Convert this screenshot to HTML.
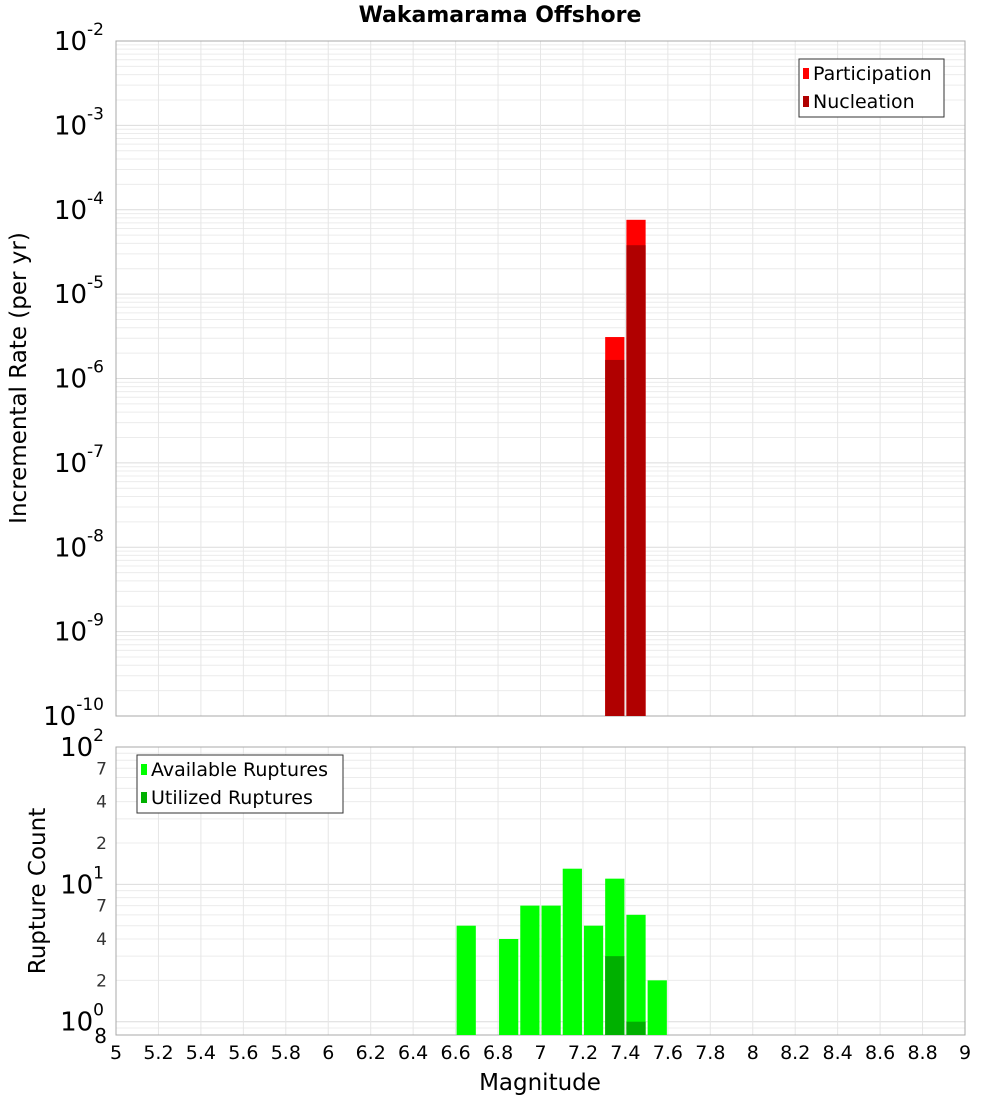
<!DOCTYPE html>
<html><head><meta charset="utf-8"><style>
body{margin:0;background:#fff;font-family:"DejaVu Sans","Liberation Sans",sans-serif}
</style></head><body>
<svg id="c" width="1000" height="1100" xmlns="http://www.w3.org/2000/svg" style="font-family:'DejaVu Sans','Liberation Sans',sans-serif">
<text x="500" y="22" text-anchor="middle" font-size="22" font-weight="bold">Wakamarama Offshore</text>
</svg>
<script>
const binCenters=[6.65,6.85,6.95,7.05,7.15,7.25,7.35,7.45,7.55];
const availableCounts=[5,4,7,7,13,5,11,6,2];
const utilizedBins=[7.35,7.45];
const utilizedCounts=[3,1];
const rateBins=[7.35,7.45];
const participationRates=[3.1e-6,7.6e-5];
const nucleationRates=[1.66e-6,3.8e-5];
const xTicks=[5,5.2,5.4,5.6,5.8,6,6.2,6.4,6.6,6.8,7,7.2,7.4,7.6,7.8,8,8.2,8.4,8.6,8.8,9];

const svg=document.getElementById('c');const NS='http://www.w3.org/2000/svg';
function mk(t,a,p){const e=document.createElementNS(NS,t);for(const k in a)e.setAttribute(k,a[k]);(p||svg).appendChild(e);return e;}
const X0=116,X1=965;
const x=v=>X0+(v-5)/4*(X1-X0);
const T0=41,T1=716;const yT=v=>T1-(Math.log10(v)+10)/8*(T1-T0);
const B0=747,B1=1035;const bLo=Math.log10(0.8);const yB=v=>B1-(Math.log10(v)-bLo)/(2-bLo)*(B1-B0);

function grid(yf,top,bot,decs){
  for(const d of decs)for(let m=1;m<10;m++){const v=m*Math.pow(10,d);const yy=yf(v);if(yy<top-0.5||yy>bot+0.5)continue;
    const l=mk('line',{x1:X0,x2:X1,y1:yy,y2:yy,stroke:m==1?'#dcdcdc':'#ececec','stroke-width':1});
    
    }
  for(const t of xTicks){const l=mk('line',{x1:x(t),x2:x(t),y1:top,y2:bot,stroke:'#e6e6e6'});
    
    }
  const r=mk('rect',{x:X0,y:top,width:X1-X0,height:bot-top,fill:'none',stroke:'#a8a8a8'});
  
  
}
grid(yT,T0,T1,[-10,-9,-8,-7,-6,-5,-4,-3,-2]);
grid(yB,B0,B1,[-1,0,1,2]);

const w=x(5.1)-x(5)-2;
function bar(c,v,yf,bot,fill,name){const r=mk('rect',{x:x(c)-w/2,y:yf(v),width:w,height:bot-yf(v),fill:fill});
  
  }
rateBins.forEach((c,i)=>{bar(c,participationRates[i],yT,T1,'#ff0000','participation-bar');bar(c,nucleationRates[i],yT,T1,'#b00000','nucleation-bar');});
binCenters.forEach((c,i)=>bar(c,availableCounts[i],yB,B1,'#00ff00','available-bar'));
utilizedBins.forEach((c,i)=>bar(c,utilizedCounts[i],yB,B1,'#00b000','utilized-bar'));

for(let d=-10;d<=-2;d++){const yy=yT(Math.pow(10,d));const t=mk('text',{x:104,y:yy+9,'text-anchor':'end','font-size':26});
  
  
  t.innerHTML='10<tspan font-size="17" dy="-15">'+d+'</tspan>';}
[[0,1],[1,10],[2,100]].forEach(([e,v])=>{const t=mk('text',{x:104,y:yB(v)+9,'text-anchor':'end','font-size':26});
  
  
  t.innerHTML='10<tspan font-size="17" dy="-15">'+e+'</tspan>';});
[2,4,7,20,40,70].forEach(v=>{const t=mk('text',{x:107,y:yB(v)+6,'text-anchor':'end','font-size':17,fill:'#333'});
  
  
  t.textContent=String(v).charAt(0);});
{const t=mk('text',{x:107,y:1043,'text-anchor':'end','font-size':20});


t.textContent='8';}
xTicks.forEach(v=>{const t=mk('text',{x:x(v),y:1059,'text-anchor':'middle','font-size':19});
  
  
  t.textContent=String(v);});
{let t=mk('text',{x:540,y:1090,'text-anchor':'middle','font-size':23});


t.textContent='Magnitude';
t=mk('text',{x:0,y:0,'text-anchor':'middle','font-size':23,transform:'translate(26,378) rotate(-90)'});


t.textContent='Incremental Rate (per yr)';
t=mk('text',{x:0,y:0,'text-anchor':'middle','font-size':23,transform:'translate(45,891) rotate(-90)'});


t.textContent='Rupture Count';}
function legend(x0,y0,wd,items,name){const g=mk('g',{});
  
  
  mk('rect',{x:x0,y:y0,width:wd,height:58,fill:'#fff',stroke:'#333'},g);
  items.forEach(([lab,col],i)=>{mk('rect',{x:x0+4,y:y0+9+i*28,width:6,height:11,fill:col},g);
    const t=mk('text',{x:x0+14,y:y0+21+i*28,'font-size':19},g);t.textContent=lab;});}
legend(799,59,145,[['Participation','#ff0000'],['Nucleation','#b00000']],'rate-legend');
legend(137,755,206,[['Available Ruptures','#00ff00'],['Utilized Ruptures','#00b000']],'count-legend');
</script>
</body></html>
